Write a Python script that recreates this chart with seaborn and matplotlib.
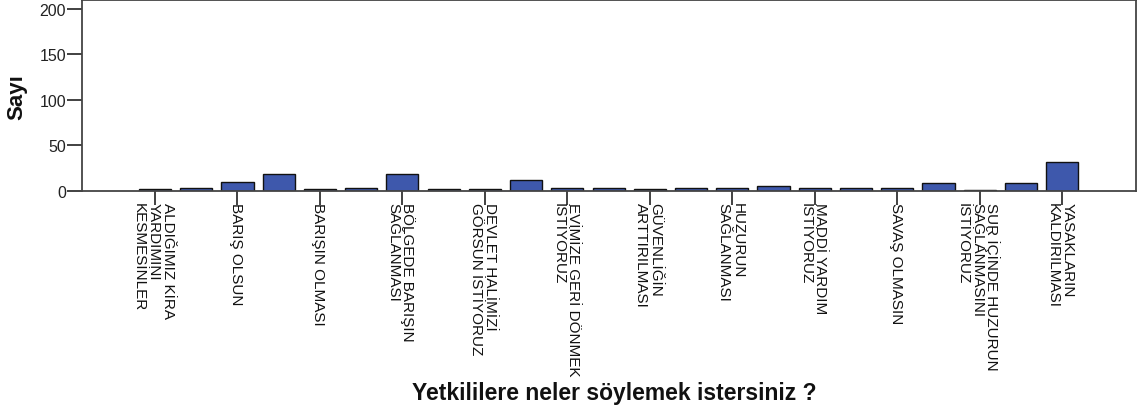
import numpy as np
import matplotlib
matplotlib.use("Agg")
import matplotlib.pyplot as plt
import seaborn as sns

# Response counts, one bar per answer category (in order)
counts = [2, 3, 10, 18, 2, 3, 18, 2, 2, 12, 3, 3, 2, 3, 3, 5, 3, 3, 3, 8, 1, 9, 32]

# Only every other category carries a visible label
tick_labels = [
    "ALDIĞIMIZ KİRA\nYARDIMINI\nKESMESİNLER",
    "BARIŞ OLSUN",
    "BARIŞIN OLMASI",
    "BÖLGEDE BARIŞIN\nSAĞLANMASI",
    "DEVLET HALİMİZİ\nGÖRSUN İSTİYORUZ",
    "EVİMİZE GERİ DÖNMEK\nİSTİYORUZ",
    "GÜVENLİĞİN\nARTTIRILMASI",
    "HUZURUN\nSAĞLANMASI",
    "MADDİ YARDIM\nİSTİYORUZ",
    "SAVAŞ OLMASIN",
    "SUR İÇİNDE HUZURUN\nSAĞLANMASINI\nİSTİYORUZ",
    "YASAKLARIN\nKALDIRILMASI",
]

y_ticks = [0, 50, 100, 150, 200]
x_title = "Yetkililere neler söylemek istersiniz ?"
y_title = "Sayı"

sns.set_theme(style="white")
plt.rcParams["font.family"] = ["Liberation Sans", "DejaVu Sans"]

W, H = 1137, 414
fig = plt.figure(figsize=(W / 100, H / 100), dpi=100)
ax = fig.add_axes([82 / W, 1 - 191.7 / H, (1136 - 82) / W, (191.7 - 1) / H])

positions = np.arange(len(counts))
sns.barplot(x=positions, y=counts, ax=ax, color="#3e58ac", saturation=1,
            width=0.78, edgecolor="#111111", linewidth=1.0)

ax.set_xlim(-1.77, 23.79)
ax.set_ylim(0, 210)
ax.set_yticks(y_ticks)
ax.set_yticklabels([str(v) for v in y_ticks], fontsize=11.5, color="#222222")

ax.set_xticks(positions[::2])
ax.set_xticklabels(tick_labels, fontsize=11, color="#111111", rotation=270,
                   rotation_mode="anchor", ha="left", va="center_baseline",
                   linespacing=1.05)

ax.tick_params(axis="y", which="major", length=10.5, width=1.3,
               color="#333333", pad=1, left=True)
ax.tick_params(axis="x", which="major", length=10, width=1.3,
               color="#333333", pad=-2, bottom=True)

for side in ["left", "right", "top", "bottom"]:
    ax.spines[side].set_visible(True)
    ax.spines[side].set_color("#444444")
    ax.spines[side].set_linewidth(1.3)

ax.set_xlabel("")
ax.set_ylabel("")
ax.grid(False)

fig.text(17 / W, 1 - 97 / H, y_title, rotation=90, fontsize=16,
         fontweight="bold", ha="center", va="center", color="#111111")
fig.text(614 / W, 1 - 394 / H, x_title, fontsize=16.5, fontweight="bold",
         ha="center", va="center", color="#111111")

fig.savefig("out.png", dpi=100, facecolor="white")
